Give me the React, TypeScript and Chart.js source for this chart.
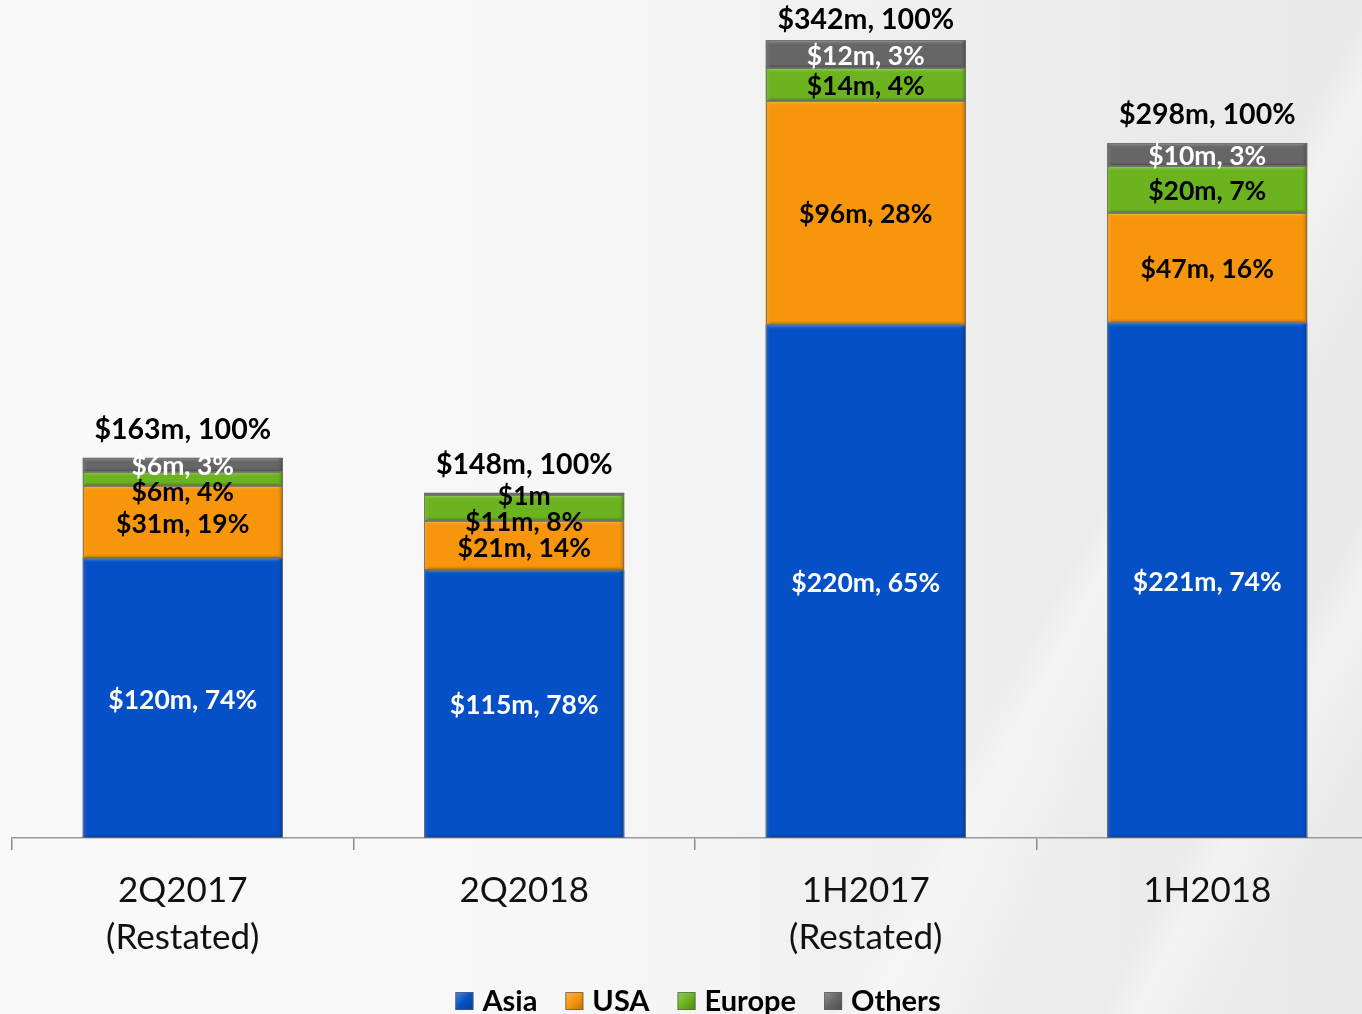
import React, { useEffect, useRef } from "react";
import { Chart, registerables } from "chart.js";

Chart.register(...registerables);

// ---- data ----
const categories: string[][] = [["2Q2017", "(Restated)"], ["2Q2018"], ["1H2017", "(Restated)"], ["1H2018"]];
const seriesNames = ["Asia", "USA", "Europe", "Others"];
const asiaValues = [120, 115, 220, 221];
const usaValues = [31, 21, 96, 47];
const europeValues = [6, 11, 14, 20];
const othersValues = [6, 1, 12, 10];
const asiaPct: (number | null)[] = [74, 78, 65, 74];
const usaPct: (number | null)[] = [19, 14, 28, 16];
const europePct: (number | null)[] = [4, 8, 4, 7];
const othersPct: (number | null)[] = [3, null, 3, 3];
const totals = [163, 148, 342, 298];

const seriesValues = [asiaValues, usaValues, europeValues, othersValues];
const seriesPct = [asiaPct, usaPct, europePct, othersPct];
const seriesColors = ["#0550c6", "#f7960b", "#6bb41f", "#666666"];
const labelColors = ["#ffffff", "#000000", "#000000", "#ffffff"];

const FONT = "Lato, 'Open Sans', sans-serif";

function shade(hex: string, amt: number, alpha = 1): string {
  const n = parseInt(hex.slice(1), 16);
  let r = (n >> 16) & 255, g = (n >> 8) & 255, b = n & 255;
  if (amt >= 0) {
    r = r + (255 - r) * amt; g = g + (255 - g) * amt; b = b + (255 - b) * amt;
  } else {
    r = r * (1 + amt); g = g * (1 + amt); b = b * (1 + amt);
  }
  return `rgba(${Math.round(r)},${Math.round(g)},${Math.round(b)},${alpha})`;
}

const bevelPlugin = {
  id: "bevel",
  afterDatasetsDraw(chart: any) {
    const ctx = chart.ctx as CanvasRenderingContext2D;
    chart.data.datasets.forEach((ds: any, di: number) => {
      const meta = chart.getDatasetMeta(di);
      const col = seriesColors[di];
      meta.data.forEach((el: any) => {
        const { x, y, base, width } = el.getProps(["x", "y", "base", "width"], true);
        const left = x - width / 2;
        const top = Math.min(y, base);
        const h = Math.abs(base - y);
        if (h < 1) return;
        ctx.save();
        ctx.beginPath();
        ctx.rect(left, top, width, h);
        ctx.clip();
        const e = Math.min(5, h / 3);
        let g = ctx.createLinearGradient(0, top, 0, top + e);
        g.addColorStop(0, shade(col, 0.35));
        g.addColorStop(1, shade(col, 0.0, 0));
        ctx.fillStyle = g;
        ctx.fillRect(left, top, width, e);
        g = ctx.createLinearGradient(0, top + h - e, 0, top + h);
        g.addColorStop(0, shade(col, 0, 0));
        g.addColorStop(1, shade(col, -0.35));
        ctx.fillStyle = g;
        ctx.fillRect(left, top + h - e, width, e);
        g = ctx.createLinearGradient(left, 0, left + 5, 0);
        g.addColorStop(0, shade(col, 0.15));
        g.addColorStop(1, shade(col, 0, 0));
        ctx.fillStyle = g;
        ctx.fillRect(left, top, 5, h);
        g = ctx.createLinearGradient(left + width - 6, 0, left + width, 0);
        g.addColorStop(0, shade(col, 0, 0));
        g.addColorStop(1, shade(col, -0.3));
        ctx.fillStyle = g;
        ctx.fillRect(left + width - 6, top, 6, h);
        ctx.restore();
        ctx.save();
        ctx.strokeStyle = "rgba(110,110,110,0.85)";
        ctx.lineWidth = 1;
        ctx.strokeRect(Math.round(left) + 0.5, Math.round(top) + 0.5, Math.round(width) - 1, Math.round(h) - 1);
        ctx.restore();
      });
    });
  },
};

const labelPlugin = {
  id: "segLabels",
  afterDatasetsDraw(chart: any) {
    const ctx = chart.ctx as CanvasRenderingContext2D;
    const n = chart.data.labels.length;
    ctx.save();
    ctx.textAlign = "center";
    ctx.textBaseline = "middle";
    for (let i = 0; i < n; i++) {
      let prevY = -Infinity;
      let topY = Infinity;
      let cx = 0;
      for (let di = chart.data.datasets.length - 1; di >= 0; di--) {
        const el = chart.getDatasetMeta(di).data[i];
        const { x, y, base } = el.getProps(["x", "y", "base"], true);
        cx = x;
        topY = Math.min(topY, y);
        const h = Math.abs(base - y);
        let ly = (y + base) / 2 + 2;
        if (ly < prevY + 26) ly = prevY + 26;
        prevY = ly;
        const v = seriesValues[di][i];
        const p = seriesPct[di][i];
        const text = p === null ? `$${v}m` : `$${v}m, ${p}%`;
        ctx.fillStyle = h < 8 ? "#000000" : labelColors[di];
        ctx.font = `bold 26.5px ${FONT}`;
        ctx.fillText(text, x, ly);
      }
      const ty = Math.max(topY - 28, 20);
      ctx.fillStyle = "#000000";
      ctx.font = `bold 28.5px ${FONT}`;
      ctx.fillText(`$${totals[i]}m, 100%`, cx, ty);
    }
    ctx.restore();
  },
};

const legendPlugin = {
  id: "customLegend",
  afterDraw(chart: any) {
    const ctx = chart.ctx as CanvasRenderingContext2D;
    ctx.save();
    ctx.font = `bold 29px ${FONT}`;
    const box = 18, gapBox = 9, gapItem = 28;
    const widths = seriesNames.map((s) => box + gapBox + ctx.measureText(s).width);
    const total = widths.reduce((a, b) => a + b, 0) + gapItem * (seriesNames.length - 1);
    const center = chart.width / 2;
    let x = center - total / 2;
    const baseline = 1011;
    seriesNames.forEach((s, i) => {
      const col = seriesColors[i];
      const bt = baseline - 19;
      const g = ctx.createLinearGradient(x, bt, x + box, bt + box);
      g.addColorStop(0, shade(col, 0.3));
      g.addColorStop(0.5, col);
      g.addColorStop(1, shade(col, -0.25));
      ctx.fillStyle = g;
      ctx.fillRect(x, bt, box, box);
      ctx.strokeStyle = "rgba(90,90,90,0.7)";
      ctx.lineWidth = 1;
      ctx.strokeRect(x + 0.5, bt + 0.5, box - 1, box - 1);
      ctx.fillStyle = "#000000";
      ctx.textBaseline = "alphabetic";
      ctx.textAlign = "left";
      ctx.fillText(s, x + box + gapBox, baseline);
      x += widths[i] + gapItem;
    });
    ctx.restore();
  },
};

export default function App() {
  const ref = useRef<HTMLCanvasElement | null>(null);
  useEffect(() => {
    if (!ref.current) return;
    const chart = new Chart(ref.current, {
      type: "bar",
      data: {
        labels: categories,
        datasets: seriesNames.map((name, i) => ({
          label: name,
          data: seriesValues[i],
          backgroundColor: seriesColors[i],
          borderWidth: 0,
          barPercentage: 0.586,
          categoryPercentage: 1,
        })),
      },
      options: {
        responsive: false,
        animation: false,
        layout: { padding: { left: 12, right: 18, top: 3, bottom: 62 } },
        plugins: {
          legend: { display: false },
          tooltip: { enabled: false },
          title: { display: false },
        },
        scales: {
          x: {
            stacked: true,
            offset: true,
            grid: {
              offset: true,
              drawOnChartArea: false,
              drawTicks: true,
              tickLength: 12,
              color: "#8c8c8c",
              lineWidth: 1.5,
            },
            border: { display: true, color: "#9a9a9a", width: 1.5 },
            ticks: {
              color: "#111111",
              font: { family: FONT, size: 35, lineHeight: 1.34 },
              padding: 17,
              maxRotation: 0,
              autoSkip: false,
            },
            afterFit: (s: any) => {
              s.height = 130;
            },
          },
          y: {
            stacked: true,
            display: false,
            min: 0,
            max: 358,
          },
        },
      },
      plugins: [bevelPlugin, labelPlugin, legendPlugin],
    });
    return () => chart.destroy();
  }, []);

  return (
    <div
      style={{
        position: "fixed",
        left: 0,
        top: 0,
        width: "1362px",
        height: "1014px",
        overflow: "hidden",
        background:
          "linear-gradient(118deg, rgba(255,255,255,0) 72%, rgba(255,255,255,0.4) 74%, rgba(255,255,255,0) 80%, rgba(255,255,255,0) 86%, rgba(255,255,255,0.4) 88%, rgba(255,255,255,0) 93%), linear-gradient(90deg, #f9f9f9 0%, #f7f7f7 40%, #f1f1f1 60%, #ebebeb 80%, #e9e9e9 100%)",
      }}
    >
      <canvas ref={ref} width={1396} height={1030} style={{ display: "block", position: "absolute", left: 0, top: 0 }} />
    </div>
  );
}
